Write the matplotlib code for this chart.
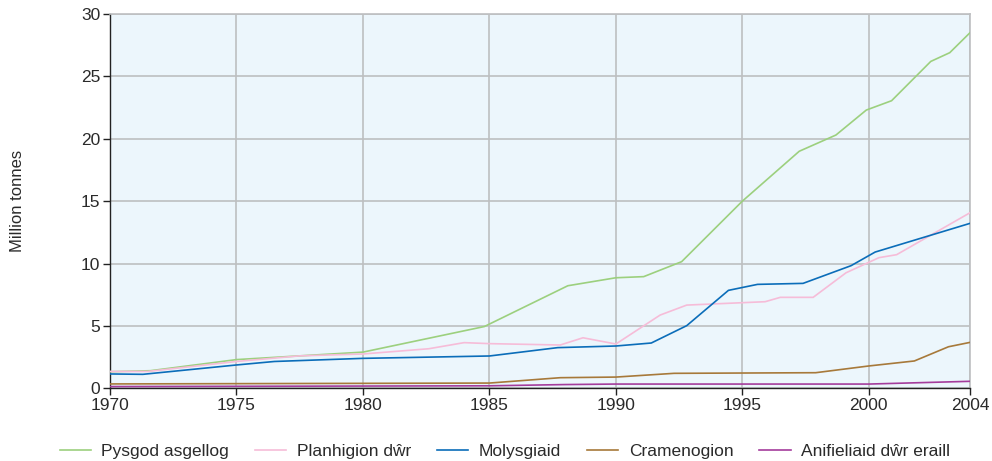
import matplotlib
matplotlib.use("Agg")
import matplotlib.pyplot as plt

plt.rcParams['font.family'] = ['Liberation Sans', 'DejaVu Sans']

# Data
fin_years = [1970, 1971.6, 1975, 1980, 1984.8, 1988.1, 1990, 1991.1, 1992.6, 1995, 1997.25, 1998.7, 1999.9, 2000.9, 2002.45, 2003.2, 2004]
fin_vals  = [1.33, 1.41, 2.3, 2.9, 4.95, 8.22, 8.86, 8.95, 10.15, 15.0, 19.0, 20.3, 22.3, 23.05, 26.2, 26.9, 28.5]

plant_years = [1970, 1971.5, 1975, 1977.5, 1980, 1982.6, 1984, 1985, 1987.8, 1988.7, 1990, 1991.75, 1992.8, 1995.9, 1996.5, 1997.8, 1999.1, 2000.4, 2001.1, 2004]
plant_vals  = [1.35, 1.35, 2.15, 2.6, 2.75, 3.17, 3.66, 3.58, 3.47, 4.05, 3.55, 5.87, 6.67, 6.94, 7.29, 7.29, 9.26, 10.47, 10.71, 14.07]

moll_years = [1970, 1971.3, 1975, 1976.5, 1980, 1985, 1987.7, 1990, 1991.4, 1992.8, 1994.45, 1995.6, 1997.4, 1999.3, 2000.25, 2004]
moll_vals  = [1.15, 1.12, 1.87, 2.15, 2.4, 2.59, 3.26, 3.39, 3.63, 5.02, 7.85, 8.33, 8.41, 9.83, 10.92, 13.22]

crust_years = [1970, 1985, 1987.8, 1990, 1992.3, 1997.9, 2000, 2001.8, 2003.15, 2004]
crust_vals  = [0.35, 0.42, 0.85, 0.9, 1.2, 1.25, 1.79, 2.19, 3.33, 3.68]

other_years = [1970, 1985, 1988, 1990, 2000, 2004]
other_vals  = [0.14, 0.2, 0.3, 0.34, 0.34, 0.56]

labels = ["Pysgod asgellog", "Planhigion dŵr", "Molysgiaid", "Cramenogion", "Anifieliaid dŵr eraill"]
colors = ["#9CD07E", "#F6BCD8", "#0B6DB9", "#A7793A", "#A43C9C"]

x_ticks = [1970, 1975, 1980, 1985, 1990, 1995, 2000, 2004]
y_ticks = [0, 5, 10, 15, 20, 25, 30]

fig = plt.figure(figsize=(9.92, 4.61), dpi=100)
ax = fig.add_axes([0.1109, 0.1577, 0.8669, 0.8119])
ax.set_facecolor("#ECF6FC")

series = [(fin_years, fin_vals), (plant_years, plant_vals), (moll_years, moll_vals),
          (crust_years, crust_vals), (other_years, other_vals)]
for (xs, ys), lab, c in zip(series, labels, colors):
    ax.plot(xs, ys, color=c, lw=1.2, label=lab, zorder=3, solid_joinstyle='miter')

ax.set_xlim(1970, 2004)
ax.set_ylim(0, 30)
ax.set_xticks(x_ticks)
ax.set_yticks(y_ticks)
ax.grid(True, color="#BDBFC1", lw=1.2, zorder=1)
ax.set_axisbelow(True)

for s in ["top", "right"]:
    ax.spines[s].set_color("#BDBFC1")
    ax.spines[s].set_linewidth(1.2)
for s in ["left", "bottom"]:
    ax.spines[s].set_color("#222222")
    ax.spines[s].set_linewidth(1.0)

ax.tick_params(axis='both', direction='out', length=5, width=1.0, color="#222222",
               labelsize=12.5, labelcolor="#2a2a2a", pad=2)
ax.set_ylabel("Million tonnes", fontsize=12, color="#2a2a2a", labelpad=40)

fig.legend(loc='center', bbox_to_anchor=(0.509, 0.02), ncol=5, frameon=False,
           fontsize=12.5, handlelength=1.8, handletextpad=0.6, columnspacing=1.5,
           labelcolor="#2a2a2a")

fig.savefig("out.png", dpi=100)
